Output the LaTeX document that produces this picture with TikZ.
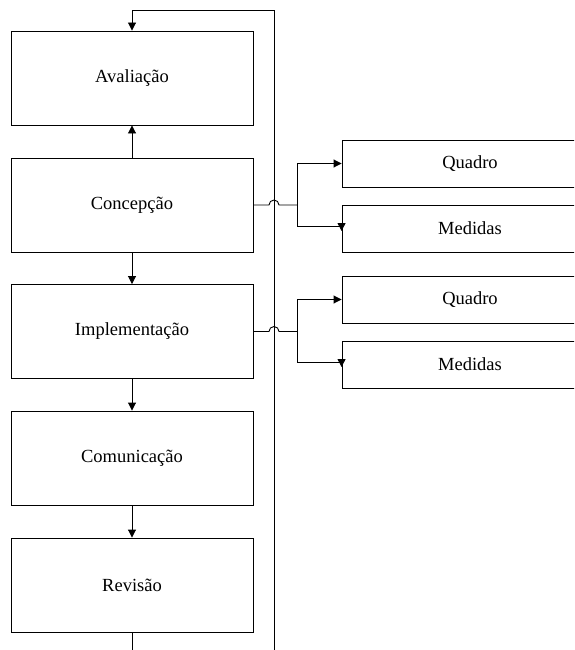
\documentclass[tikz,border=0pt]{standalone}
\usepackage{fontspec}
\setmainfont{Liberation Serif}
\usetikzlibrary{arrows.meta}
\begin{document}
\begin{tikzpicture}[x=1pt,y=-1pt,
  line width=0.9pt,
  stage/.style={draw, minimum width=242pt, minimum height=94pt, inner sep=0pt,
    font=\fontsize{18.5}{22}\selectfont},
  part/.style={draw, minimum width=256pt, minimum height=47pt, inner sep=0pt,
    font=\fontsize{18.5}{22}\selectfont},
  flow/.style={-{Triangle[length=8pt,width=8pt]}},
  wire/.style={}]
  \clip (0,0) rectangle (574,650);

  % main sequence of stages
  \node[stage] (ava) at (132,78)    {Avaliação};
  \node[stage] (con) at (132,205)   {Concepção};
  \node[stage] (imp) at (132,331.5) {Implementação};
  \node[stage] (com) at (132,458)   {Comunicação};
  \node[stage] (rev) at (132,585)   {Revisão};

  % side components
  \node[part] (q1) at (470,163.5) {Quadro};
  \node[part] (m1) at (470,228.5) {Medidas};
  \node[part] (q2) at (470,299.5) {Quadro};
  \node[part] (m2) at (470,364.5) {Medidas};

  % feedback loop
  \coordinate (loopTop) at (274,10);
  \coordinate (loopBot) at (274,650);
  \coordinate (revOut)  at (132,650);
  \draw (loopBot) -- (loopTop);
  \draw[flow] (loopTop) -| (ava.north);
  \draw (rev.south) -- (revOut);

  % stage transitions
  \draw[flow] (con.north) -- (ava.south);
  \draw[flow] (con.south) -- (imp.north);
  \draw[flow] (imp.south) -- (com.north);
  \draw[flow] (com.south) -- (rev.north);

  % branches to the side components, hopping over the loop line
  \coordinate (b1) at (297,205);
  \coordinate (b2) at (297,331.5);
  \draw (con.east) -- (269,205) arc[start angle=180,end angle=0,radius=5pt] -- (b1);
  \draw (imp.east) -- (269,331.5) arc[start angle=180,end angle=0,radius=5pt] -- (b2);
  \draw[flow] (b1) |- (q1.west);
  \draw[flow] (b1) |- ([yshift=2.5pt]m1.west) -- ([yshift=-2.5pt]m1.west);
  \draw[flow] (b2) |- (q2.west);
  \draw[flow] (b2) |- ([yshift=2.5pt]m2.west) -- ([yshift=-2.5pt]m2.west);
\end{tikzpicture}
\end{document}
